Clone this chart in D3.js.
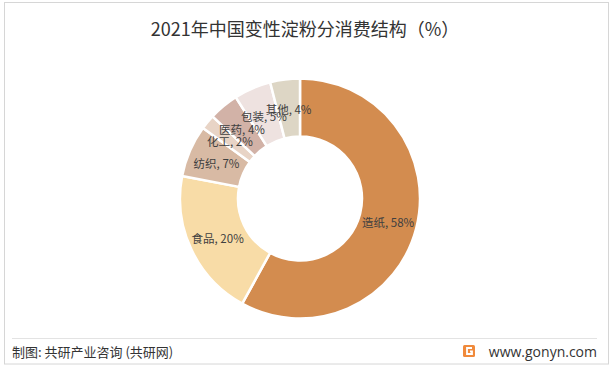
<!DOCTYPE html>
<html>
<head>
<meta charset="utf-8">
<script src="https://cdn.jsdelivr.net/npm/d3@7"></script>
<style>
  html, body { margin: 0; padding: 0; background: #fff; }
  svg { display: block; }
</style>
</head>
<body>
<svg id="chart" width="614" height="370"></svg>
<script>
const categories = ["造纸", "食品", "纺织", "化工", "医药", "包装", "其他"];
const values = [58, 20, 7, 2, 4, 5, 4];
const colors = ["#D38C4F", "#F8DCA7", "#D8BAA4", "#E8D4C6", "#D2B2A7", "#EEE2E0", "#DDD6C5"];
const titleText = "2021年中国变性淀粉分消费结构（%）";
const sourceText = "制图: 共研产业咨询 (共研网)";
const siteText = "www.gonyn.com";

const svg = d3.select("#chart");
const font = "'Noto Sans CJK SC', 'Noto Sans', sans-serif";

// frame
svg.append("rect").attr("x", 4.5).attr("y", 2.5).attr("width", 604).attr("height", 361.5)
  .attr("fill", "#fff").attr("stroke", "#d6d6d6").attr("stroke-width", 1);
svg.append("line").attr("x1", 12).attr("x2", 597).attr("y1", 338.5).attr("y2", 338.5)
  .attr("stroke", "#e3e3e3").attr("stroke-width", 1);

// title
svg.append("text").attr("x", 305).attr("y", 36).attr("text-anchor", "middle")
  .attr("font-family", font).attr("font-size", 18).attr("fill", "#333")
  .text(titleText);

// donut
const cx = 300, cy = 198.5, rOuter = 120, rInner = 62;
const data = categories.map((c, i) => ({ name: c, value: values[i], color: colors[i] }));
const pie = d3.pie().value(d => d.value).sort(null);
const arc = d3.arc().innerRadius(rInner).outerRadius(rOuter);
const g = svg.append("g").attr("transform", `translate(${cx},${cy})`);
const arcs = pie(data);
g.selectAll("path").data(arcs).join("path")
  .attr("d", arc)
  .attr("fill", d => d.data.color)
  .attr("stroke", "#fff").attr("stroke-width", 2.5).attr("stroke-linejoin", "round");
g.selectAll("text.lbl").data(arcs).join("text")
  .attr("class", "lbl")
  .attr("transform", d => `translate(${arc.centroid(d)})`)
  .attr("text-anchor", "middle").attr("dy", "0.5em")
  .attr("font-family", font).attr("font-size", 11.5).attr("fill", "#404040")
  .text(d => `${d.data.name}, ${d.data.value}%`);

// footer
svg.append("text").attr("x", 12).attr("y", 357)
  .attr("font-family", font).attr("font-size", 13).attr("fill", "#333")
  .text(sourceText);
const logo = svg.append("g").attr("transform", "translate(463,345)");
logo.append("rect").attr("width", 12).attr("height", 12).attr("rx", 1.5).attr("fill", "#F08A3C");
logo.append("path").attr("d", "M9 3 H4 V9 H9 V6.5 H7").attr("fill", "none")
  .attr("stroke", "#fff").attr("stroke-width", 1.8);
svg.append("text").attr("x", 597).attr("y", 357).attr("text-anchor", "end")
  .attr("font-family", "'Open Sans', 'Noto Sans', sans-serif").attr("font-size", 14).attr("fill", "#333")
  .text(siteText);
</script>
</body>
</html>
